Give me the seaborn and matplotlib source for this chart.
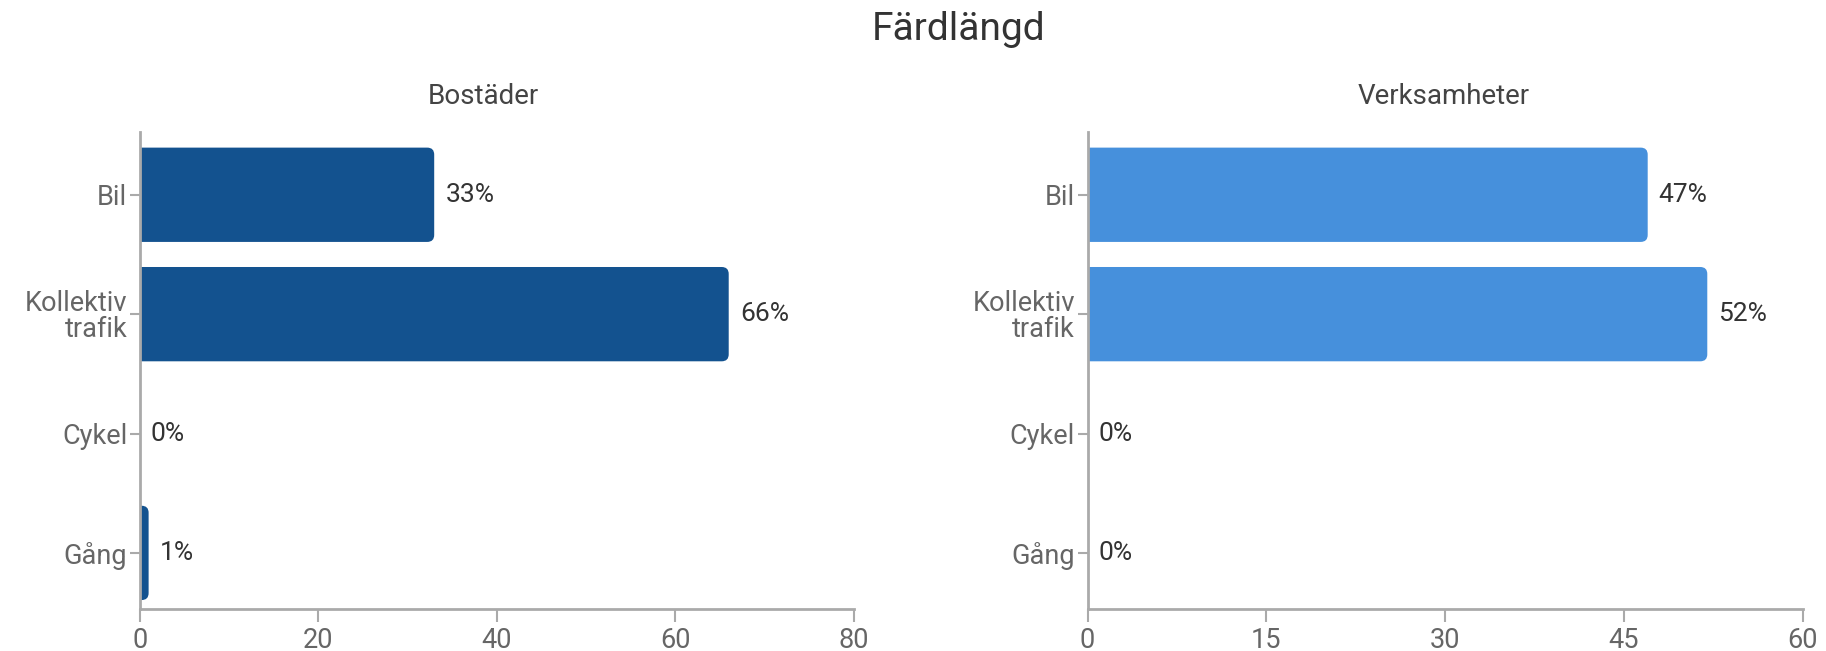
import matplotlib
matplotlib.use("Agg")
import matplotlib.pyplot as plt
import seaborn as sns
import pandas as pd
from matplotlib.patches import FancyBboxPatch

# =========================================
# DATA
# =========================================

categories = ["Bil", "Kollektiv\ntrafik", "Cykel", "Gång"]

bostader = [33, 66, 0, 1]

verksamheter = [47, 52, 0, 0]

left_ticks = [0, 20, 40, 60, 80]

right_ticks = [0, 15, 30, 45, 60]

# =========================================
# STYLE
# =========================================

sns.set_style("white")
plt.rcParams['font.family'] = ['Roboto', 'DejaVu Sans']

fig = plt.figure(figsize=(18.26, 6.51), dpi=100)

ax1 = fig.add_axes([0.0765, 0.0645, 0.391, 0.7335])
ax2 = fig.add_axes([0.5956, 0.0645, 0.3916, 0.7335])

panels = [
    (ax1, bostader, "Bostäder", "#13528f", left_ticks, 0.482),
    (ax2, verksamheter, "Verksamheter", "#4690dc", right_ticks, 0.498),
]

radius_px = 7

for ax, values, title, color, ticks, title_x in panels:

    df = pd.DataFrame({"kategori": categories, "andel": values})

    sns.barplot(
        data=df,
        x="andel",
        y="kategori",
        color=color,
        width=0.79,
        saturation=1,
        orient="h",
        ax=ax
    )

    ax.set_xlim(ticks[0], ticks[-1])
    ax.set_ylim(3.47, -0.53)
    ax.set_xticks(ticks)

    # data units per pixel, to get round corners in screen space
    bbox = ax.get_window_extent()
    x_per_px = (ticks[-1] - ticks[0]) / bbox.width
    y_per_px = 4.0 / bbox.height
    r = radius_px * x_per_px

    # rounded bar ends
    for bar in list(ax.patches):
        x0, y0 = bar.get_x(), bar.get_y()
        w, h = bar.get_width(), bar.get_height()
        bar.set_visible(False)
        if w <= 0:
            continue
        rounded = FancyBboxPatch(
            (x0 - 3 * r, y0), w + 3 * r, h,
            boxstyle=f"round,pad=0,rounding_size={r}",
            mutation_aspect=y_per_px / x_per_px,
            facecolor=color, edgecolor="none"
        )
        ax.add_patch(rounded)

    ax.bar_label(
        ax.containers[0],
        labels=[f"{v}%" for v in values],
        padding=8,
        fontsize=19,
        color="#333333"
    )

    ax.set_title(title, fontsize=20, color="#444444", pad=20, x=title_x)
    ax.set_xlabel("")
    ax.set_ylabel("")

    sns.despine(ax=ax)
    for side in ["left", "bottom"]:
        ax.spines[side].set_color("#aaaaaa")
        ax.spines[side].set_linewidth(2)
        ax.spines[side].set_zorder(5)

    ax.tick_params(axis="x", length=9, width=1.5, color="#aaaaaa",
                   labelsize=19.5, labelcolor="#666666", pad=4)
    ax.tick_params(axis="y", length=7, width=1.5, color="#aaaaaa",
                   labelsize=19.5, labelcolor="#666666", pad=2)
    ax.xaxis.set_ticks_position("bottom")
    ax.yaxis.set_ticks_position("left")
    for lbl in ax.get_yticklabels():
        lbl.set_linespacing(0.95)

fig.text(0.525, 1 - 29 / 651, "Färdlängd", ha="center", va="center",
         fontsize=28, color="#333333")

fig.savefig("out.png", dpi=100)
